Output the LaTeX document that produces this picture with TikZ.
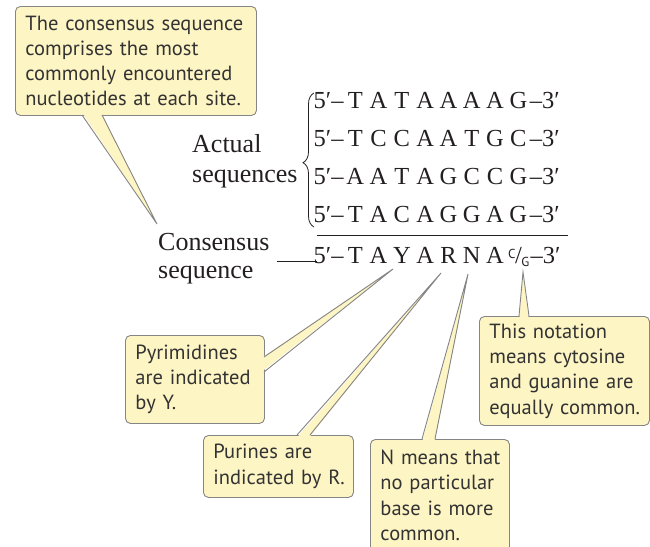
\documentclass[tikz,border=0pt]{standalone}
\usepackage{fontspec}
\setmainfont{Liberation Serif}
\setsansfont{PT Sans}
\usetikzlibrary{decorations.pathreplacing}
\definecolor{callfill}{HTML}{FDF5C4}
\definecolor{callline}{HTML}{858585}
\definecolor{ink}{HTML}{231F20}
\definecolor{calltext}{HTML}{333333}
\newcommand\calloutfont{\sffamily\fontsize{20.5}{25.3}\selectfont\hyphenpenalty=10000}
\newcommand\seqfont{\fontsize{24.5}{28}\selectfont}
\newcommand\labfont{\fontsize{26}{30}\selectfont}
\newcommand\cb[1]{\makebox[23.3pt]{#1}}
\newcommand\pre{\makebox[26.4pt][r]{5′–}}
\newcommand\seqline[8]{\pre\cb{#1}\cb{#2}\cb{#3}\cb{#4}\cb{#5}\cb{#6}\cb{#7}\cb{#8}–3′}
\newcommand\cgnote{\makebox[24pt][l]{\kern1.5pt\raisebox{5pt}{\sffamily\fontsize{13}{13}\selectfont C}\kern-0.5pt/\kern-0.5pt\raisebox{-3pt}{\sffamily\fontsize{13}{13}\selectfont G}}}
\begin{document}
\begin{tikzpicture}[x=1pt,y=-1pt,
  callbox/.style={draw=callline, fill=callfill, rounded corners=5pt, line width=0.9pt,
    font=\calloutfont, text=calltext, align=left, inner xsep=10pt, inner ysep=0pt,
    anchor=north west},
  tail/.style={draw=callline, line width=0.9pt, line join=miter},
  seqtext/.style={font=\seqfont, text=ink, inner sep=0pt, anchor=base west},
  labtext/.style={font=\labfont, text=ink, inner sep=0pt, anchor=base west}]
\useasboundingbox (0,0) rectangle (650,546);
\clip (0,0) rectangle (650,546);

% sequences
\node[seqtext] (s1) at (317,108) {\seqline TATAAAAG};
\node[seqtext] (s2) at (317,146) {\seqline TCCAATGC};
\node[seqtext] (s3) at (317,184) {\seqline AATAGCCG};
\node[seqtext] (s4) at (317,222) {\seqline TACAGGAG};
\node[seqtext] (cs) at (317,263) {\pre\cb{T}\cb{A}\cb{Y}\cb{A}\cb{R}\cb{N}\cb{A}\cgnote–3′};

% labels
\node[labtext] (act1) at (192,152) {Actual};
\node[labtext] (act2) at (192,182) {sequences};
\node[labtext] (con1) at (158,250) {Consensus};
\node[labtext] (con2) at (158,278) {sequence};

% brace and rule
\draw[ink, line width=0.8pt, decorate, decoration={brace, amplitude=11pt, aspect=0.48}] (314,227) -- (314,93);
\draw[ink, line width=1pt] (317,235) -- (568,235);
\coordinate (lead) at (277,261);
\draw[ink, line width=1pt] (lead) -- (lead -| cs.west);

% callout boxes
\node[callbox, text width=221pt, minimum height=109pt] (cTop) at (15,6)
  {\mbox{The consensus sequence}\\\mbox{comprises the most}\\\mbox{commonly encountered}\\\mbox{nucleotides at each site.}};
\node[callbox, text width=119pt, minimum height=88pt] (cPyr) at (125,335)
  {\mbox{Pyrimidines}\\\mbox{are indicated}\\\mbox{by Y.}};
\node[callbox, text width=130pt, minimum height=62pt] (cPur) at (203,435)
  {\mbox{Purines are}\\\mbox{indicated by R.}};
\node[callbox, text width=119pt, minimum height=112pt] (cN) at (370,439)
  {\mbox{N means that}\\\mbox{no particular}\\\mbox{base is more}\\\mbox{common.}};
\node[callbox, text width=150pt, minimum height=109pt] (cThis) at (479,316)
  {\mbox{This notation}\\\mbox{means cytosine}\\\mbox{and guanine are}\\\mbox{equally common.}};

% tails
\coordinate (tTop) at (157,224);
\coordinate (tPyr) at (393,269);
\coordinate (tPur) at (441,273);
\coordinate (tN) at (468,274);
\coordinate (tThis) at (523,272);

\fill[callfill] (82.5,113) -- (tTop) -- (101.5,113) -- cycle;
\draw[tail] (82,115) -- (tTop) -- (102,115);

\fill[callfill] (262,357.5) -- (tPyr) -- (262,371.5) -- cycle;
\draw[tail] (264,357) -- (tPyr) -- (264,372);

\fill[callfill] (297.5,437) -- (tPur) -- (309.5,437) -- cycle;
\draw[tail] (297,435) -- (tPur) -- (310,435);

\fill[callfill] (422.5,441) -- (tN) -- (434.5,441) -- cycle;
\draw[tail] (422,439) -- (tN) -- (435,439);

\fill[callfill] (519.5,318) -- (tThis) -- (528.5,318) -- cycle;
\draw[tail] (519,316) -- (tThis) -- (529,316);
\end{tikzpicture}
\end{document}
